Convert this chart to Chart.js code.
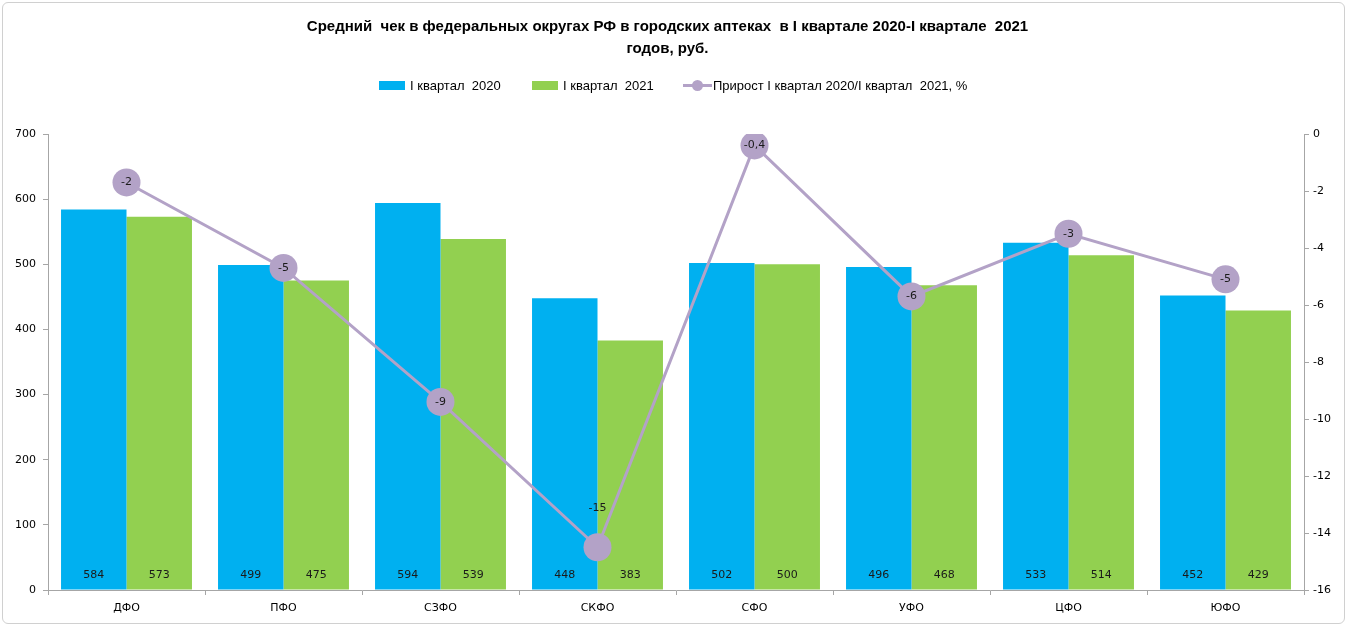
<!DOCTYPE html>
<html><head><meta charset="utf-8">
<script src="https://cdn.jsdelivr.net/npm/chart.js@4"></script>
<style>
html,body{margin:0;padding:0;background:#fff;}
#wrap{position:relative;width:1350px;height:629px;overflow:hidden;}
#frame{position:absolute;left:2px;top:2px;width:1341px;height:620px;border:1px solid #d0d0d0;border-radius:6px;}
#title{position:absolute;left:0;width:1335px;top:15px;text-align:center;font:bold 15px "Liberation Sans",Arial,sans-serif;line-height:22px;white-space:pre;color:#000;}
#legend{position:absolute;top:77px;left:0;width:1350px;height:16px;font:13px "Liberation Sans",Arial,sans-serif;color:#000;}
.li{position:absolute;top:0;display:flex;align-items:center;height:16px;white-space:pre;}
.box{display:inline-block;width:26px;height:9px;margin-right:5px;}
.lm{position:relative;display:inline-block;width:29px;height:16px;margin-right:1px;}
.lm:before{content:"";position:absolute;left:0;right:0;top:7px;height:3px;background:#B3A2C7;}
.lm:after{content:"";position:absolute;left:9px;top:3px;width:11px;height:11px;border-radius:50%;background:#B3A2C7;}
canvas{position:absolute;left:0;top:0;}
</style></head>
<body>
<div id="wrap">
<div id="frame"></div>
<canvas id="c" width="1350" height="629"></canvas>
<div id="title">Средний  чек в федеральных округах РФ в городских аптеках  в I квартале 2020-I квартале  2021
годов, руб.</div>
<div id="legend">
<div class="li" style="left:379px"><span class="box" style="background:#00B0F0"></span>I квартал  2020</div>
<div class="li" style="left:532px"><span class="box" style="background:#92D050"></span>I квартал  2021</div>
<div class="li" style="left:683px"><span class="lm"></span>Прирост I квартал 2020/I квартал  2021, %</div>
</div>
</div>
<script>
const categories = ["ДФО","ПФО","СЗФО","СКФО","СФО","УФО","ЦФО","ЮФО"];
const q2020 = [584, 499, 594, 448, 502, 496, 533, 452];
const q2021 = [573, 475, 539, 383, 500, 468, 514, 429];
const growth = [-1.7, -4.7, -9.4, -14.5, -0.4, -5.7, -3.5, -5.1];
const growthLabels = ["-2","-5","-9","-15","-0,4","-6","-3","-5"];
const leftTicks = [0,100,200,300,400,500,600,700];
const rightTicks = [0,-2,-4,-6,-8,-10,-12,-14,-16];

const tickFont = {family:"DejaVu Sans", size:11};
const axisGray = '#a6a6a6';

const labelPlugin = {
  id:'labels',
  afterDatasetsDraw(chart){
    const ctx = chart.ctx;
    ctx.save();
    ctx.font = '11px "DejaVu Sans"';
    ctx.fillStyle = '#1a1a1a';
    ctx.textAlign = 'center';
    ctx.textBaseline = 'middle';
    const base = chart.scales.y.getPixelForValue(0);
    [0,1].forEach(di=>{
      const meta = chart.getDatasetMeta(di);
      const data = chart.data.datasets[di].data;
      meta.data.forEach((el,i)=>{
        ctx.fillText(String(data[i]), el.x, base - 15);
      });
    });
    const lm = chart.getDatasetMeta(2);
    lm.data.forEach((el,i)=>{
      let y = el.y;
      if (i === 3) y = el.y - 39;
      ctx.fillText(growthLabels[i], el.x, y);
    });
    ctx.restore();
  }
};

new Chart(document.getElementById('c'), {
  type:'bar',
  data:{
    labels: categories,
    datasets:[
      {type:'bar', label:'I квартал  2020', data:q2020, backgroundColor:'#00B0F0', yAxisID:'y', order:2,
       categoryPercentage:0.834, barPercentage:1.0},
      {type:'bar', label:'I квартал  2021', data:q2021, backgroundColor:'#92D050', yAxisID:'y', order:2,
       categoryPercentage:0.834, barPercentage:1.0},
      {type:'line', label:'Прирост I квартал 2020/I квартал  2021, %', data:growth, yAxisID:'y1', order:0,
       borderColor:'#B3A2C7', backgroundColor:'#B3A2C7', borderWidth:3, pointRadius:14, pointHoverRadius:14,
       pointBackgroundColor:'#B3A2C7', pointBorderWidth:0, tension:0}
    ]
  },
  options:{
    responsive:false, animation:false,
    layout:{padding:{left:0,right:0,top:134,bottom:4}},
    plugins:{legend:{display:false}, title:{display:false}, tooltip:{enabled:false}},
    scales:{
      x:{
        grid:{display:true, drawOnChartArea:false, drawTicks:true, tickLength:5, color:axisGray, offset:true},
        border:{display:true, color:axisGray},
        ticks:{font:tickFont, color:'#000', padding:7},
        afterFit(s){ s.height = 35; }
      },
      y:{
        position:'left', min:0, max:700,
        afterBuildTicks(s){ s.ticks = leftTicks.map(v=>({value:v})); },
        grid:{display:true, drawOnChartArea:false, drawTicks:true, tickLength:5, color:axisGray},
        border:{display:true, color:axisGray},
        ticks:{font:tickFont, color:'#000', padding:7},
        afterFit(s){ s.width = 48; }
      },
      y1:{
        position:'right', min:-16, max:0,
        afterBuildTicks(s){ s.ticks = rightTicks.map(v=>({value:v})); },
        grid:{display:true, drawOnChartArea:false, drawTicks:true, tickLength:5, color:axisGray},
        border:{display:true, color:axisGray},
        ticks:{font:tickFont, color:'#000', padding:4},
        afterFit(s){ s.width = 46; }
      }
    }
  },
  plugins:[labelPlugin]
});
</script>
</body></html>
